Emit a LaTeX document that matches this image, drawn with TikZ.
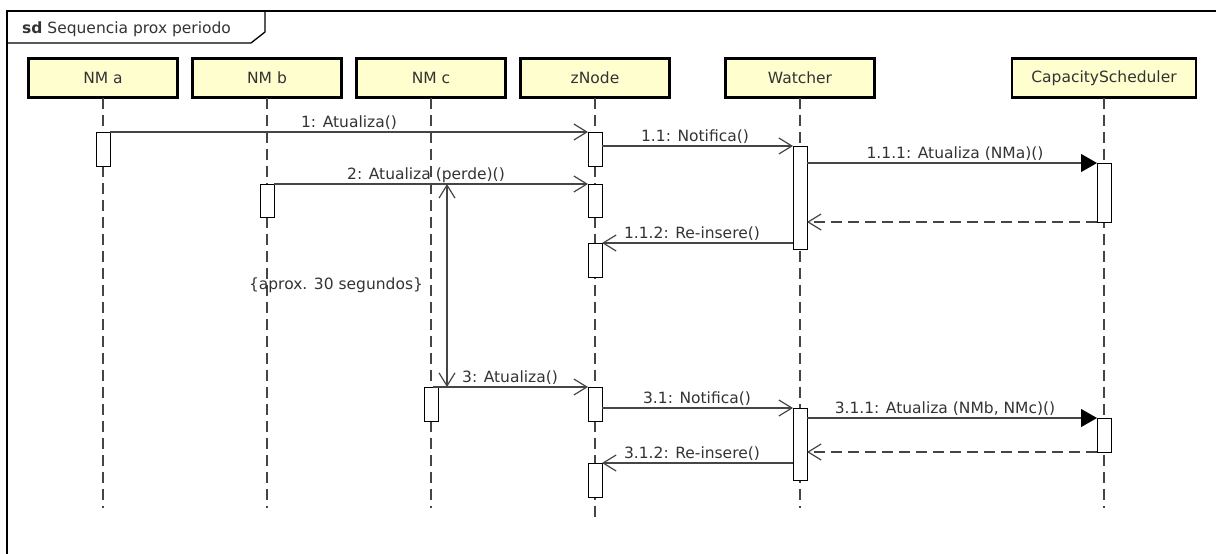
\documentclass[tikz,border=0pt]{standalone}
\usepackage{fontspec}
\setmainfont{DejaVu Sans}
\usetikzlibrary{arrows.meta}
\definecolor{hdrfill}{HTML}{FEFECE}
\definecolor{txt}{HTML}{333333}
\definecolor{ln}{HTML}{454545}
\tikzset{
  hdr/.style={draw=black, line width=2.6pt, fill=hdrfill, minimum width=149pt, minimum height=39pt, inner sep=0pt, outer sep=0pt, text=txt, font=\fontsize{15.5}{18}\selectfont},
  act/.style={draw=black, fill=white, line width=0.9pt, minimum width=14pt, inner sep=0pt, outer sep=0pt},
  lifeline/.style={draw=ln, line width=1.2pt, dash pattern=on 11pt off 6pt},
  openhead/.style={-{Straight Barb[length=13pt,width=16pt,line width=1.2pt]}},
  msg/.style={draw=ln, line width=1.2pt, openhead},
  sync/.style={draw=ln, line width=1.2pt, -{Triangle[length=16pt,width=18pt,color=black,fill=black]}},
  ret/.style={draw=ln, line width=1.2pt, dash pattern=on 11pt off 6pt, openhead},
  lbl/.style={text=txt, font=\fontsize{15.5}{18}\selectfont, inner sep=0pt, anchor=base},
  frm/.style={draw=black, line width=1.3pt}
}
\begin{document}
\begin{tikzpicture}[x=1pt,y=-1pt]
\useasboundingbox (0,0) rectangle (1216,554);
% frame
\draw[frm] (1216,11) -- (7,11) -- (7,554);
\draw[frm] (7,43) -- (251,43) -- (265,32) -- (265,11);
\node[lbl, anchor=base west] (title) at (22,34) {\textbf{sd} Sequencia prox periodo};
% headers
\node[hdr] (hA) at (103,78) {NM a};
\node[hdr] (hB) at (267,78) {NM b};
\node[hdr] (hC) at (431,78) {NM c};
\node[hdr] (hZ) at (595,78) {zNode};
\node[hdr] (hW) at (800,78) {Watcher};
\node[hdr, minimum width=184pt] (hS) at (1104,78) {CapacityScheduler};
% lifeline ends
\coordinate (eA) at (103,508);
\coordinate (eB) at (267,508);
\coordinate (eC) at (431,508);
\coordinate (eZ) at (595,519);
\coordinate (eW) at (800,508);
\coordinate (eS) at (1104,508);
\draw[lifeline] (hA.south) -- (eA);
\draw[lifeline] (hB.south) -- (eB);
\draw[lifeline] (hC.south) -- (eC);
\draw[lifeline] (hZ.south) -- (eZ);
\draw[lifeline] (hW.south) -- (eW);
\draw[lifeline] (hS.south) -- (eS);
% activations
\node[act, minimum height=34pt] (aA1) at (103,149) {};
\node[act, minimum height=33pt] (aB1) at (267,200.5) {};
\node[act, minimum height=34pt] (aZ1) at (595,149) {};
\node[act, minimum height=33pt] (aZ2) at (595,200.5) {};
\node[act, minimum height=34pt] (aZ3) at (595,260) {};
\node[act, minimum height=103pt] (aW1) at (800,197.5) {};
\node[act, minimum height=59pt] (aC1) at (1104,192.5) {};
\node[act, minimum height=34pt] (aN1) at (431,404) {};
\node[act, minimum height=34pt] (aZ4) at (595,404) {};
\node[act, minimum height=72pt] (aW2) at (800,444) {};
\node[act, minimum height=34pt] (aC2) at (1104,435) {};
\node[act, minimum height=34pt] (aZ5) at (595,480) {};
% messages
\draw[msg] (aA1.north east) -- (aZ1.north west);
\node[lbl] (l1) at (349,127) {1: Atualiza()};
\draw[msg] (aW1.north west -| aZ1.east) -- (aW1.north west);
\node[lbl] (l11) at (695,141) {1.1: Notifica()};
\draw[sync] (aC1.north west -| aW1.east) -- (aC1.north west);
\node[lbl] (l111) at (955,158) {1.1.1: Atualiza (NMa)()};
\draw[ret] (aC1.south west) -- (aC1.south west -| aW1.east);
\draw[msg] (aB1.north east) -- (aZ2.north west);
\node[lbl] (l2) at (426,179) {2: Atualiza (perde)()};
\draw[msg] (aZ3.north east -| aW1.west) -- (aZ3.north east);
\node[lbl] (l112) at (692,238) {1.1.2: Re-insere()};
\draw[msg] (aN1.north east) -- (aZ4.north west);
\node[lbl] (l3) at (510,382) {3: Atualiza()};
\draw[msg] (aW2.north west -| aZ4.east) -- (aW2.north west);
\node[lbl] (l31) at (697,403) {3.1: Notifica()};
\draw[sync] (aC2.north west -| aW2.east) -- (aC2.north west);
\node[lbl] (l311) at (945,413) {3.1.1: Atualiza (NMb, NMc)()};
\draw[ret] (aC2.south west) -- (aC2.south west -| aW2.east);
\draw[msg] (aZ5.north east -| aW2.west) -- (aZ5.north east);
\node[lbl] (l312) at (692,458) {3.1.2: Re-insere()};
% duration constraint
\coordinate (dT) at (447,184);
\coordinate (dB) at (447,387);
\coordinate (dTl) at (433,184);
\coordinate (dTr) at (462,184);
\coordinate (dBl) at (433,387);
\coordinate (dBr) at (462,387);
\draw[draw=ln, line width=1.2pt] (dTl) -- (dTr);
\draw[draw=ln, line width=1.2pt] (dBl) -- (dBr);
\draw[draw=ln, line width=1.2pt, {Straight Barb[length=13pt,width=16pt,line width=1.2pt]}-{Straight Barb[length=13pt,width=16pt,line width=1.2pt]}] (dT) -- (dB);
\node[lbl, anchor=center] (dur) at (336,285) {\{aprox. 30 segundos\}};
\end{tikzpicture}
\end{document}
